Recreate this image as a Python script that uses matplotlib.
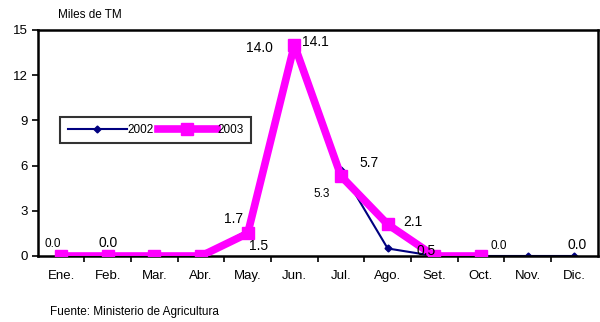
import matplotlib
matplotlib.use("Agg")
import matplotlib.pyplot as plt

months = ["Ene.", "Feb.", "Mar.", "Abr.", "May.", "Jun.", "Jul.", "Ago.", "Set.", "Oct.", "Nov.", "Dic."]
v2002 = [0.0, 0.0, 0.0, 0.0, 1.7, 14.1, 5.7, 0.5, 0.0, 0.0, 0.0, 0.0]
v2003 = [0.0, 0.0, 0.0, 0.0, 1.5, 14.0, 5.3, 2.1, 0.0, 0.0]
yticks = [0, 3, 6, 9, 12, 15]

# (index, series, text, dx, dy, size)
labels = [
    (0, v2002, "0.0", -6, 4, 8.5),
    (1, v2002, "0.0", 0, 4, 10),
    (4, v2002, "1.7", -10, 3, 10),
    (4, v2003, "1.5", 8, -14, 10),
    (5, v2003, "14.0", -25, -7, 10),
    (5, v2002, "14.1", 15, -4, 10),
    (6, v2002, "5.7", 20, 0, 10),
    (6, v2003, "5.3", -14, -17, 8.5),
    (7, v2003, "2.1", 18, -3, 10),
    (7, v2002, "0.5", 28, -7, 10),
    (9, v2002, "0.0", 13, 3, 8.5),
    (11, v2002, "0.0", 2, 3, 10),
]

plt.rcParams["font.family"] = ["Liberation Sans", "DejaVu Sans"]

fig = plt.figure(figsize=(6.0, 3.22), dpi=100)
ax = fig.add_axes([0.063, 0.205, 0.933, 0.702])

x02 = list(range(len(v2002)))
x03 = list(range(len(v2003)))
ax.plot(x02, v2002, color="#000080", lw=1.5, marker="D", ms=3.5, label="2002", zorder=2)
ax.plot(x03, v2003, color="#FF00FF", lw=5.5, marker="s", ms=9, label="2003", zorder=3)

for i, s, t, dx, dy, fs in labels:
    ax.annotate(t, (i, s[i]), xytext=(dx, dy), textcoords="offset points",
                ha="center", va="bottom", fontsize=fs, color="black", zorder=4)

ax.set_xlim(-0.5, 11.5)
ax.set_ylim(0, 15)
ax.set_yticks(yticks)
ax.tick_params(axis="y", labelsize=9.5, length=4, width=1.2)
ax.set_xticks([i + 0.5 for i in range(11)])
ax.set_xticklabels([])
ax.tick_params(axis="x", which="major", length=4, width=1.2)
ax.set_xticks(range(12), minor=True)
ax.set_xticklabels(months, minor=True)
ax.tick_params(axis="x", which="minor", length=0, labelsize=9.5, pad=10)

for sp in ax.spines.values():
    sp.set_linewidth(1.8)
    sp.set_color("black")

leg = ax.legend(loc="upper left", bbox_to_anchor=(0.03, 0.64), ncol=2, fontsize=8.5,
                frameon=True, fancybox=False, edgecolor="black", handlelength=5,
                columnspacing=0.3, handletextpad=0.1, borderpad=0.6)
leg.get_frame().set_linewidth(1.5)

fig.text(58 / 600, 1 - 15 / 322, "Miles de TM", fontsize=8.5, va="center")
fig.text(50 / 600, 1 - 312 / 322, "Fuente: Ministerio de Agricultura", fontsize=8.5, va="center")

fig.savefig("out.png", dpi=100)
